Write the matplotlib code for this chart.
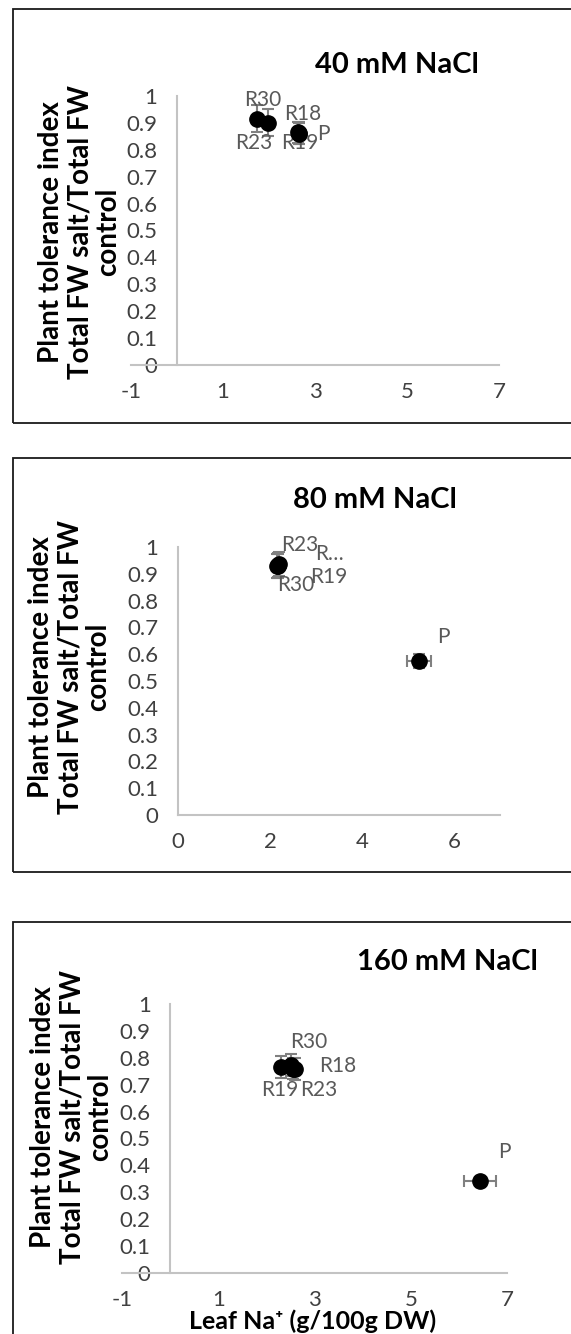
import matplotlib
matplotlib.use('Agg')
import matplotlib.pyplot as plt
from matplotlib.patches import Rectangle
from matplotlib.ticker import FuncFormatter

plt.rcParams['font.family'] = ['Lato', 'DejaVu Sans']
plt.rcParams['axes.unicode_minus'] = False

W, H = 571, 1334

# 40 mM NaCl
labels_40 = ['R18', 'R19', 'R23', 'R30', 'P']
na_40 = [2.62, 2.66, 1.98, 1.74, 2.66]
pti_40 = [0.865, 0.86, 0.90, 0.915, 0.862]
na_err_40 = [0.05, 0.05, 0.05, 0.05, 0.05]
pti_err_40 = [0.04, 0.04, 0.05, 0.05, 0.04]

# 80 mM NaCl (R18 label is cut short in the chart)
labels_80 = ['R\u2026', 'R19', 'R23', 'R30', 'P']
na_80 = [2.17, 2.20, 2.18, 2.15, 5.23]
pti_80 = [0.93, 0.935, 0.933, 0.928, 0.575]
na_err_80 = [0.06, 0.06, 0.06, 0.06, 0.26]
pti_err_80 = [0.045, 0.045, 0.045, 0.045, 0.025]

# 160 mM NaCl
labels_160 = ['R18', 'R19', 'R23', 'R30', 'P']
na_160 = [2.55, 2.31, 2.60, 2.51, 6.44]
pti_160 = [0.76, 0.766, 0.758, 0.773, 0.342]
na_err_160 = [0.07, 0.07, 0.07, 0.07, 0.34]
pti_err_160 = [0.04, 0.04, 0.04, 0.04, 0.015]

ylabel = 'Plant tolerance index\nTotal FW salt/Total FW\ncontrol'


def px_axes(fig, left, top, right, bottom):
    return fig.add_axes([left / W, 1 - bottom / H, (right - left) / W, (bottom - top) / H])


def panel(fig, box, rect, xlim, xticks, labels, na, pti, na_err, pti_err, offsets,
          title, title_xy, ylab_xy):
    # outer frame of the panel
    bx0, by0, bx1, by1 = box
    fig.patches.append(Rectangle((bx0 / W, 1 - by1 / H), (bx1 - bx0) / W, (by1 - by0) / H,
                                 transform=fig.transFigure, fill=False,
                                 edgecolor='#1a1a1a', linewidth=1.3))
    ax = px_axes(fig, *rect)
    ax.set_xlim(*xlim)
    ax.set_ylim(0, 1)
    ax.set_xticks(xticks)
    ax.set_yticks([i / 10 for i in range(11)])
    ax.yaxis.set_major_formatter(FuncFormatter(lambda v, p: f'{v:g}'))
    for s in ['top', 'right']:
        ax.spines[s].set_visible(False)
    ax.spines['left'].set_position(('data', 0))
    for s in ['left', 'bottom']:
        ax.spines[s].set_color('#c3c3c3')
        ax.spines[s].set_linewidth(1.5)
    ax.tick_params(length=0, labelsize=16, colors='#404040')
    ax.tick_params(axis='y', pad=14)
    ax.tick_params(axis='x', pad=12)
    ax.patch.set_alpha(0)

    ax.errorbar(na, pti, xerr=na_err, yerr=pti_err, fmt='o', color='black',
                ecolor='#808080', elinewidth=1.5, capsize=4.5, capthick=1.5,
                markersize=11, clip_on=False, zorder=3)
    for g, x, y, (dx, dy) in zip(labels, na, pti, offsets):
        ax.annotate(g, (x, y), xytext=(dx * 0.72, -dy * 0.72), textcoords='offset points',
                    ha='center', va='center', fontsize=15, color='#595959')

    fig.text(title_xy[0] / W, 1 - title_xy[1] / H, title, ha='center', va='center',
             fontsize=21, fontweight='bold', color='black')
    fig.text(ylab_xy[0] / W, 1 - ylab_xy[1] / H, ylabel, rotation=90, ha='center',
             va='center', multialignment='center', fontsize=20, fontweight='bold',
             linespacing=1.12)
    return ax


fig = plt.figure(figsize=(W / 100, H / 100), dpi=100)

panel(fig, (13, 9, 620, 423), (131, 96, 499, 365), (-1, 7), [-1, 1, 3, 5, 7],
      labels_40, na_40, pti_40, na_err_40, pti_err_40,
      [(5, -18), (0, 9), (-14, 20), (6, -19), (24, 1)],
      '40 mM NaCl', (397, 65), (80, 232))

panel(fig, (13, 458, 620, 872), (178, 547, 500, 815), (0, 7), [0, 2, 4, 6],
      labels_80, na_80, pti_80, na_err_80, pti_err_80,
      [(52, -12), (50, 13), (21, -20), (19, 19), (25, -24)],
      '80 mM NaCl', (375, 500), (70, 667))

panel(fig, (13, 922, 620, 1400), (122, 1004, 507, 1273), (-1, 7), [-1, 1, 3, 5, 7],
      labels_160, na_160, pti_160, na_err_160, pti_err_160,
      [(45, -3), (-2, 23), (24, 21), (18, -23), (24, -29)],
      '160 mM NaCl', (447, 962), (72, 1117))

fig.text(313 / W, 1 - 1321 / H, 'Leaf Na\u207a (g/100g DW)', ha='center', va='center',
         fontsize=18, fontweight='bold')

fig.savefig('out.png', dpi=100)
